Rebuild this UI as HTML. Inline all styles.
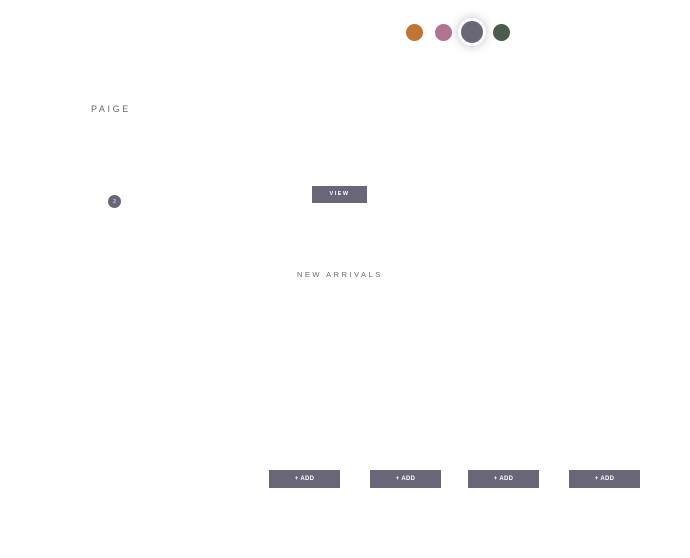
<!DOCTYPE html>
<html><head><style>
body{margin:0;width:690px;height:558px;background:#fff;position:relative;overflow:hidden;font-family:"Liberation Sans",sans-serif;}
.a{position:absolute}
.dot{position:absolute;border-radius:50%}
.btn{position:absolute;background:#6a6678;color:#fff;font-size:6px;font-weight:bold;text-align:center;letter-spacing:0.3px}
</style></head><body>
<div class="dot" style="left:405.5px;top:23.5px;width:17px;height:17px;background:#c27434"></div>
<div class="dot" style="left:434.5px;top:23.5px;width:17px;height:17px;background:#b17593"></div>
<div class="dot" style="left:458px;top:18px;width:22px;height:22px;background:#6a6678;border:3px solid #fff;box-shadow:0 0 10px rgba(0,0,0,0.25)"></div>
<div class="dot" style="left:492.5px;top:23.5px;width:17px;height:17px;background:#4a5c4b"></div>
<div class="a" style="left:91px;top:104px;font-size:9px;letter-spacing:2.6px;color:#6a6678;line-height:11px">PAIGE</div>
<div class="dot" style="left:108px;top:195px;width:13px;height:13px;background:#6a6678;color:#fff;font-size:5px;display:flex;align-items:center;justify-content:center">2</div>
<div class="btn" style="left:312px;top:186px;width:55px;height:17px;line-height:17px;font-size:5.5px;letter-spacing:1.5px">VIEW</div>
<div class="a" style="left:297px;top:270px;font-size:7.5px;letter-spacing:2.5px;color:#6a6678;line-height:10px">NEW ARRIVALS</div>
<div class="btn" style="left:269px;top:470px;width:71px;height:18px;line-height:18px">+ ADD</div>
<div class="btn" style="left:370px;top:470px;width:71px;height:18px;line-height:18px">+ ADD</div>
<div class="btn" style="left:468px;top:470px;width:71px;height:18px;line-height:18px">+ ADD</div>
<div class="btn" style="left:569px;top:470px;width:71px;height:18px;line-height:18px">+ ADD</div>
</body></html>
